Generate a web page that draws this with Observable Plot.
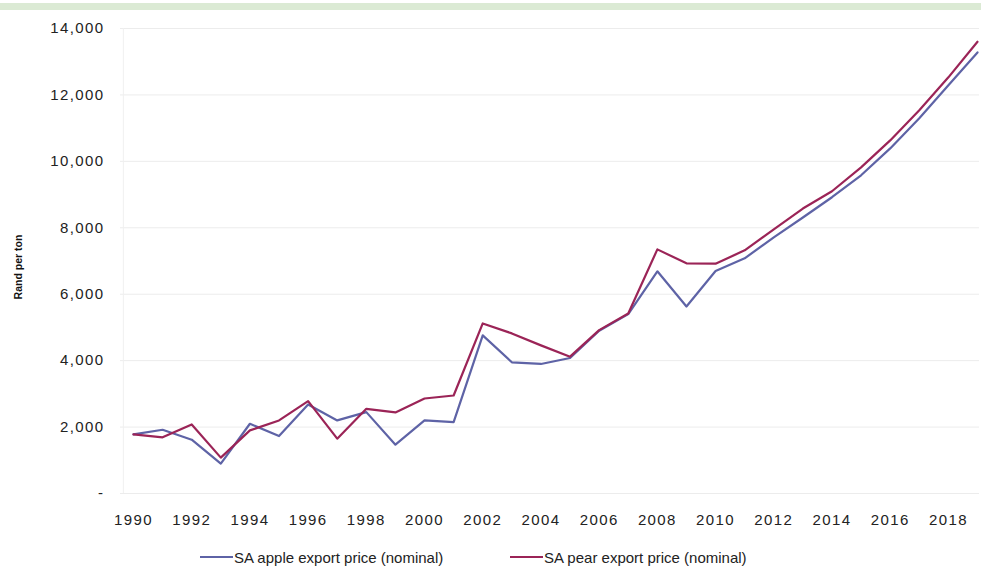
<!DOCTYPE html>
<html>
<head>
<meta charset="utf-8">
<script src="https://cdn.jsdelivr.net/npm/d3@7"></script>
<script src="https://cdn.jsdelivr.net/npm/@observablehq/plot@0.6"></script>
<style>
  body { margin: 0; background: #fff; font-family: "Liberation Sans", Arial, sans-serif; }
  #wrap { position: relative; width: 981px; height: 575px; overflow: hidden; }
  #band { position: absolute; left: 0; top: 3px; width: 981px; height: 7px; background: #dbead4; }
  #chart { position: absolute; left: 0; top: 0; }
  #chart g[aria-label="x-axis tick label"] text, #chart g[aria-label="y-axis tick label"] text { letter-spacing: 1.4px; }
  #legend { position: absolute; left: 0; top: 547px; width: 981px; height: 20px; font-size: 15px; color: #222; }
  .item { position: absolute; top: 0; display: flex; align-items: center; height: 20px; }
  .sw { width: 33px; height: 2px; margin-right: 1px; }
</style>
</head>
<body>
<div id="wrap">
  <div id="band"></div>
  <div id="chart"></div>
  <div id="legend"></div>
</div>
<script>
const years = [1990,1991,1992,1993,1994,1995,1996,1997,1998,1999,2000,2001,2002,2003,2004,2005,2006,2007,2008,2009,2010,2011,2012,2013,2014,2015,2016,2017,2018,2019];
const applePrice = [1780,1920,1620,900,2100,1730,2680,2200,2450,1470,2200,2150,4760,3950,3900,4080,4900,5400,6690,5630,6700,7080,7710,8310,8920,9580,10390,11300,12290,13280];
const pearPrice  = [1780,1690,2080,1080,1900,2200,2780,1650,2550,2440,2860,2950,5120,4820,4460,4120,4920,5420,7350,6930,6920,7320,7950,8580,9100,9820,10630,11540,12530,13600];
const seriesNames = ["SA apple export price (nominal)", "SA pear export price (nominal)"];
const seriesColors = ["#5e63a6", "#9b2457"];
const yTicks = [0,2000,4000,6000,8000,10000,12000,14000];
const xTicks = [1990,1992,1994,1996,1998,2000,2002,2004,2006,2008,2010,2012,2014,2016,2018];

const rows = [];
years.forEach((yr, i) => {
  rows.push({year: yr, value: applePrice[i], series: seriesNames[0]});
  rows.push({year: yr, value: pearPrice[i], series: seriesNames[1]});
});

const fmt = d3.format(",");
const chart = Plot.plot({
  width: 981,
  height: 540,
  marginLeft: 120,
  marginRight: 2,
  marginTop: 28,
  marginBottom: 47,
  style: {fontFamily: '"Liberation Sans", Arial, sans-serif', fontSize: "15px", color: "#222", background: "transparent"},
  x: {domain: [1990, 2019], range: [133, 977], ticks: xTicks, tickFormat: d => String(d), tickSize: 0, tickPadding: 21, label: null},
  y: {domain: [0, 14000], ticks: yTicks, tickFormat: d => d === 0 ? "-" : fmt(d), tickSize: 0, tickPadding: 16, label: null},
  color: {domain: seriesNames, range: seriesColors},
  marks: [
    Plot.gridY(yTicks, {stroke: "#ececec", strokeOpacity: 1}),
    Plot.ruleX([1990], {x: () => 1989.65, stroke: "#f0f0f0"}),
    Plot.line(rows, {x: "year", y: "value", z: "series", stroke: "series", strokeWidth: 2.2}),
    Plot.text(["Rand per ton"], {frameAnchor: "left", textAnchor: "middle", dx: -102, dy: 6, rotate: -90, fontWeight: "bold", fontSize: 10.5, fill: "#111"})
  ]
});
document.getElementById("chart").appendChild(chart);

const legend = document.getElementById("legend");
const positions = [200, 510];
seriesNames.forEach((name, i) => {
  const it = document.createElement("div");
  it.className = "item";
  it.style.left = positions[i] + "px";
  const sw = document.createElement("span");
  sw.className = "sw";
  sw.style.background = seriesColors[i];
  const tx = document.createElement("span");
  tx.textContent = name;
  it.appendChild(sw);
  it.appendChild(tx);
  legend.appendChild(it);
});
</script>
</body>
</html>
